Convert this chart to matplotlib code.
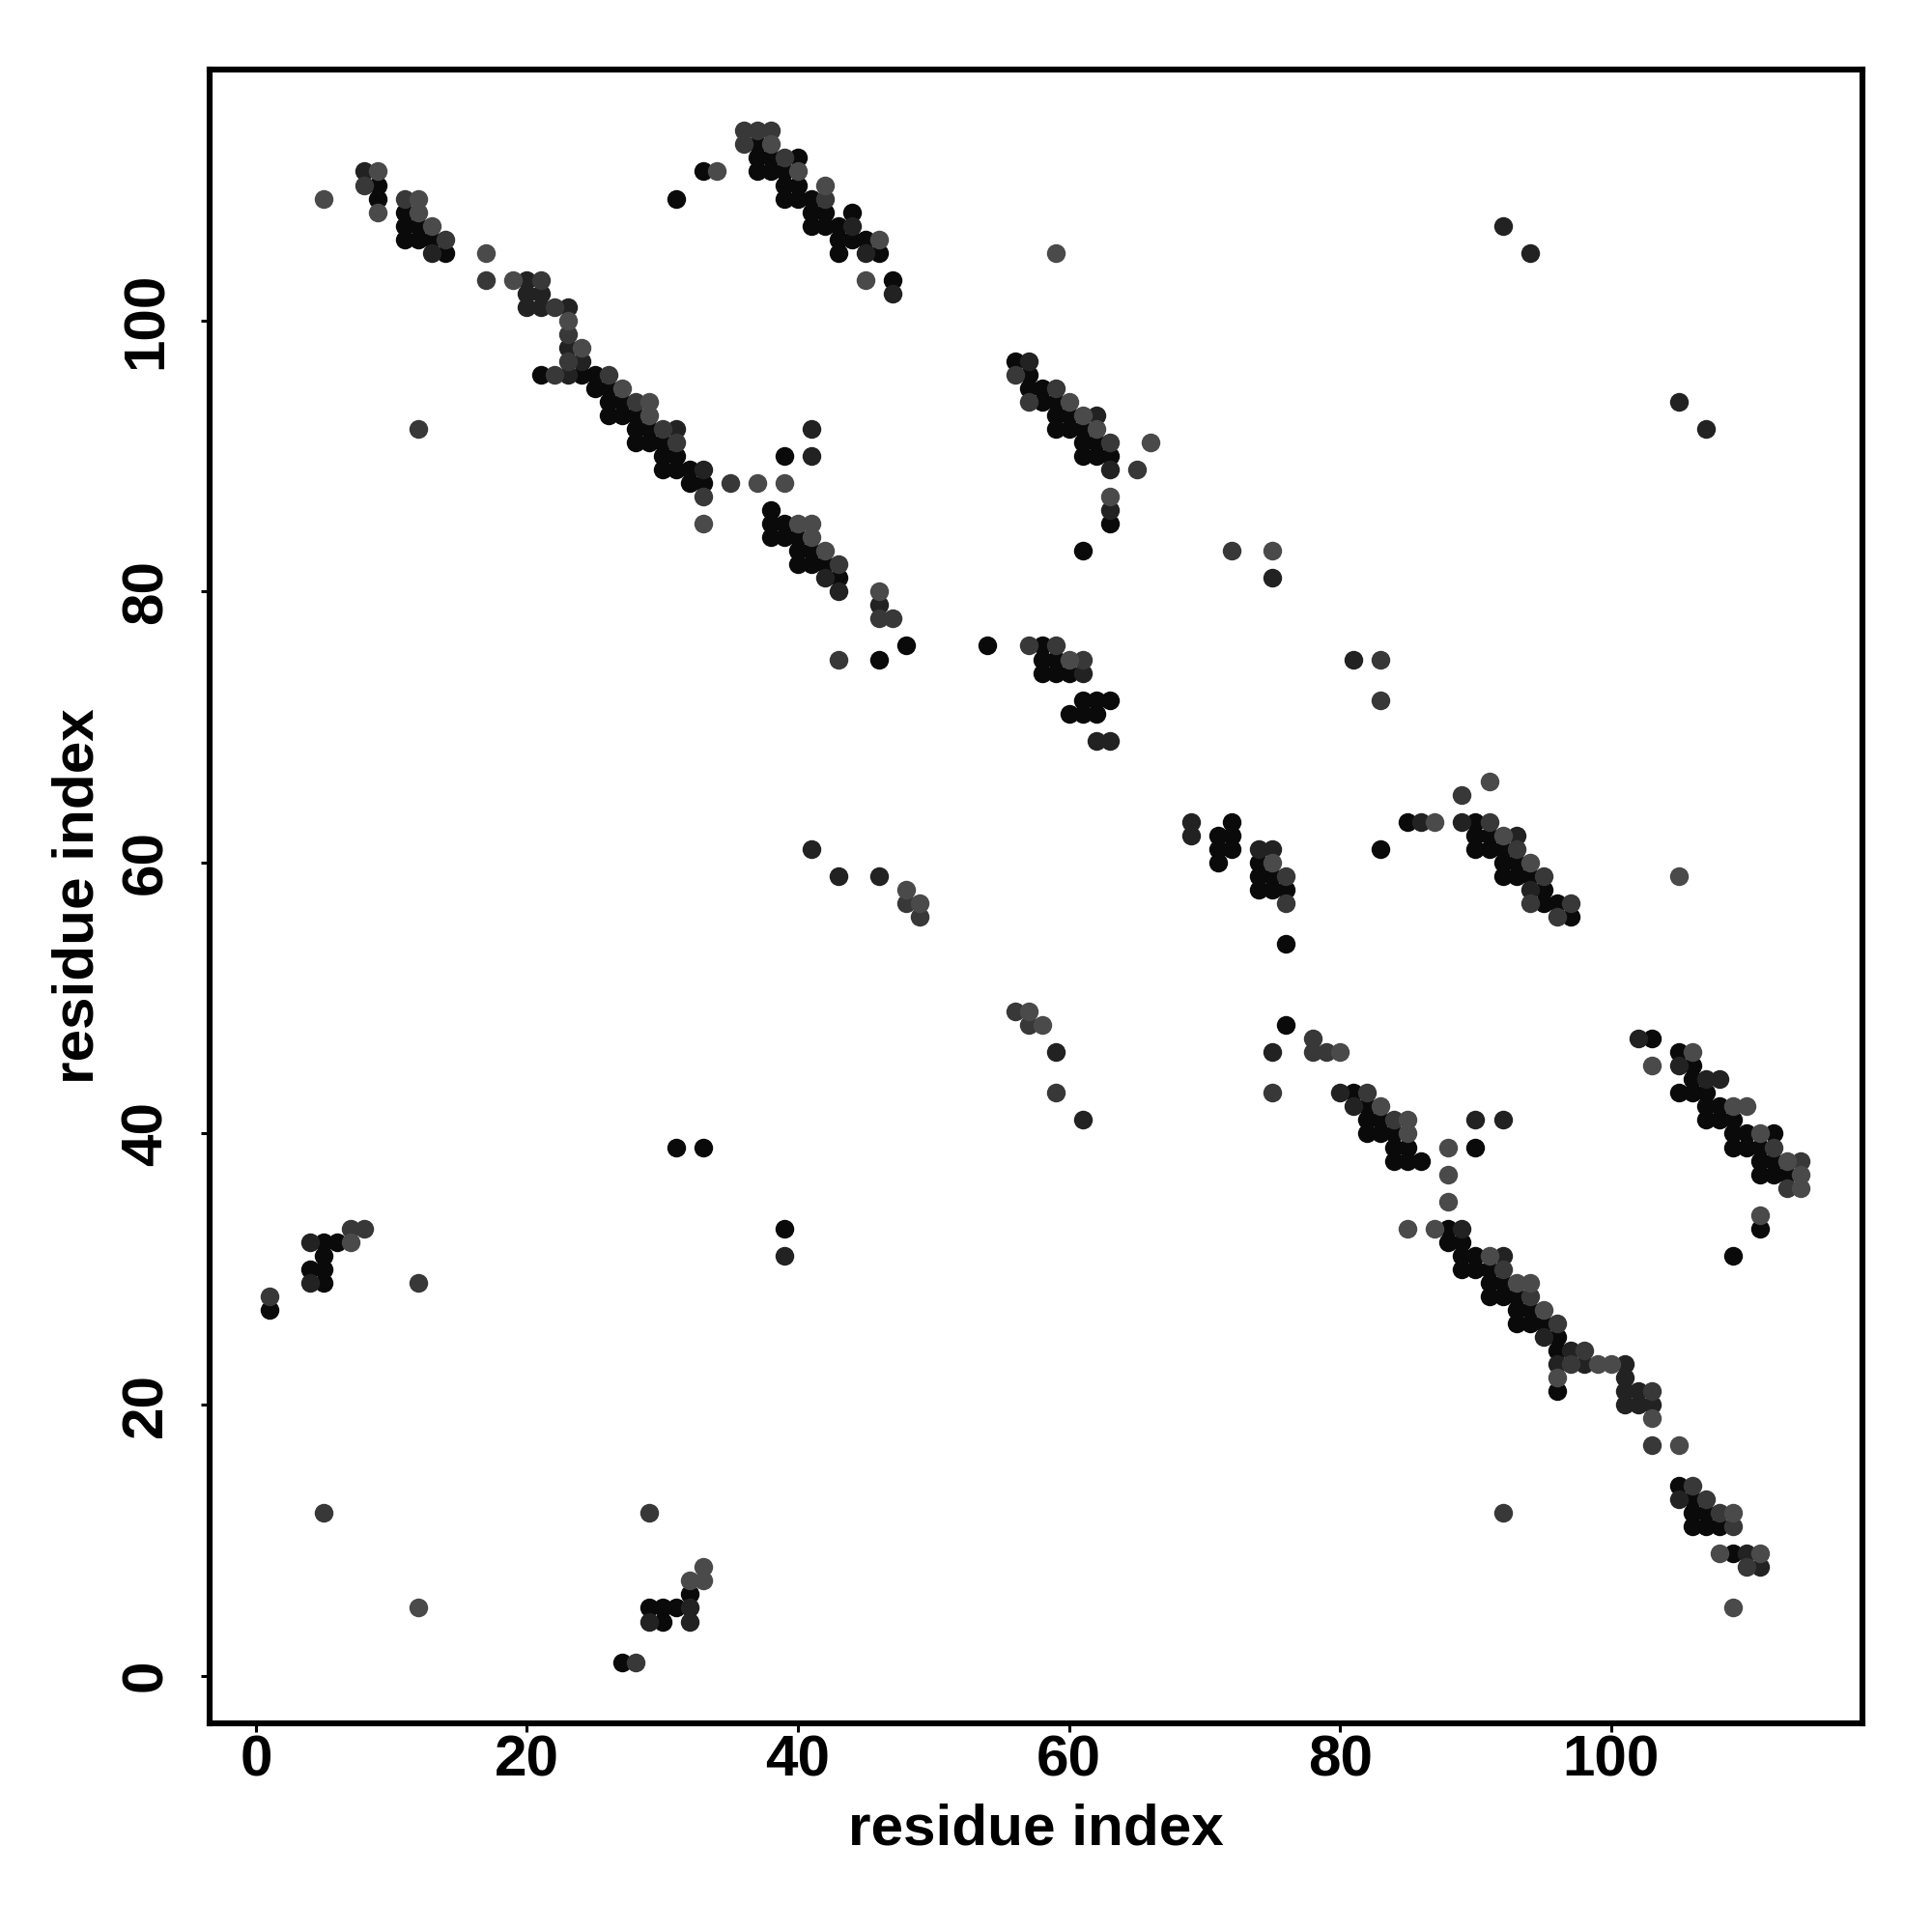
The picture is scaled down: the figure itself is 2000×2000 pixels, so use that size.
import matplotlib
matplotlib.use("Agg")
from matplotlib import pyplot as plt

# contacts, grouped by how dark the dot is
black_pts = [(9,110),(9,109),(11,108),(11,107),(12,107),(11,106),(12,106),(13,106),(14,105),(25,96),(24,96),(25,95),(26,95),
    (26,94),(27,94),(26,93),(27,93),(28,93),(28,92),(29,92),(28,91),(29,91),(30,91),(30,90),(31,90),(30,89),(31,89),(32,89),
    (32,88),(33,88),(21,96),(31,109),(33,111),(37,113),(37,112),(38,112),(40,112),(37,111),(38,111),(39,111),(39,110),(40,110),
    (39,109),(40,109),(41,109),(41,108),(42,108),(44,108),(41,107),(42,107),(43,107),(43,106),(44,106),(45,106),(43,105),(46,105),
    (47,103),(39,90),(38,86),(38,85),(39,85),(38,84),(39,84),(40,84),(40,83),(41,83),(40,82),(41,82),(42,82),(43,81),(48,76),
    (46,75),(54,76),(58,76),(58,75),(59,75),(58,74),(59,74),(60,74),(61,72),(62,72),(63,72),(60,71),(61,71),(62,71),(56,97),
    (57,96),(57,95),(58,95),(58,94),(59,94),(59,93),(60,93),(59,92),(60,92),(61,92),(61,91),(62,91),(61,90),(62,90),(63,90),
    (63,85),(61,83),(71,62),(72,63),(72,62),(71,61),(72,61),(71,60),(74,60),(74,59),(75,59),(74,58),(75,58),(76,58),(76,54),
    (76,48),(81,43),(82,42),(82,41),(83,41),(82,40),(83,40),(84,40),(84,39),(85,39),(84,38),(85,38),(86,38),(90,39),(88,33),
    (88,32),(89,32),(89,31),(90,31),(89,30),(90,30),(91,30),(91,29),(92,29),(91,28),(92,28),(93,28),(93,27),(94,27),(93,26),
    (94,26),(95,26),(96,25),(96,24),(96,21),(103,47),(105,46),(106,45),(106,44),(105,43),(106,43),(107,43),(107,42),(108,42),
    (107,41),(108,41),(109,41),(109,40),(110,40),(112,40),(109,39),(110,39),(111,39),(111,38),(112,38),(111,37),(112,37),(113,37),
    (111,33),(109,31),(83,61),(85,63),(90,63),(90,62),(91,62),(90,61),(91,61),(92,61),(92,60),(93,60),(92,59),(93,59),(94,59),
    (95,58),(95,57),(96,57),(97,56),(105,14),(106,13),(106,12),(107,12),(106,11),(107,11),(108,11),(109,9),(27,1),(29,5),(30,5),
    (31,5),(30,4),(32,6),(1,27),(5,32),(6,32),(5,31),(4,30),(5,30),(5,29),(31,39),(33,39),(39,33)]

dark_pts = [(8,111),(13,105),(20,103),(20,102),(21,102),(20,101),(21,101),(23,101),(23,98),(24,97),(23,96),(31,92),(33,89),
    (47,102),(44,107),(45,105),(41,92),(41,90),(42,81),(43,80),(46,79),(57,97),(62,93),(63,89),(63,86),(62,69),(63,69),(61,74),
    (41,61),(43,59),(46,59),(69,63),(69,62),(74,61),(75,61),(75,46),(80,43),(81,42),(90,41),(92,41),(89,33),(92,31),(95,25),
    (97,24),(96,23),(98,23),(101,23),(101,22),(101,21),(102,21),(101,20),(102,20),(103,20),(102,47),(105,45),(107,44),(108,44),
    (93,62),(86,63),(89,63),(94,58),(105,13),(110,9),(111,8),(32,5),(29,4),(32,4),(4,32),(4,29),(39,31),(92,107),(94,105),
    (105,94),(107,92),(75,81),(81,75),(59,46),(61,41)]

mid_pts = [(8,110),(11,109),(14,106),(17,103),(21,103),(22,101),(23,99),(23,97),(22,96),(26,96),(28,94),(30,92),(31,91),(33,87),
    (35,88),(12,92),(36,114),(37,114),(38,114),(36,113),(39,112),(42,109),(43,82),(46,78),(47,78),(43,75),(57,76),(59,76),(61,75),
    (56,96),(59,95),(57,94),(63,91),(65,89),(48,57),(49,56),(76,59),(76,57),(78,47),(78,46),(79,46),(75,43),(82,43),(84,41),
    (92,30),(94,28),(96,26),(98,24),(97,23),(103,21),(103,17),(112,39),(114,38),(113,36),(89,65),(91,63),(93,61),(95,59),(94,57),
    (97,57),(96,56),(106,14),(107,13),(108,12),(109,11),(110,8),(28,1),(7,33),(8,33),(1,28),(12,29),(5,12),(29,12),(92,12),
    (59,43),(57,48),(56,49),(72,83),(83,75),(83,72)]

light_pts = [(5,109),(9,111),(9,108),(12,109),(12,108),(13,107),(17,105),(19,103),(23,100),(24,98),(27,95),(29,94),(29,93),(33,85),
    (37,88),(34,111),(38,113),(40,111),(42,110),(46,106),(45,103),(39,88),(40,85),(41,85),(41,84),(42,83),(46,80),(60,75),(60,94),
    (61,93),(62,92),(66,91),(63,87),(48,58),(49,57),(57,49),(75,60),(80,46),(83,42),(85,41),(85,40),(88,39),(88,37),(88,35),(85,33),
    (87,33),(91,31),(93,29),(94,29),(95,27),(99,23),(100,23),(96,22),(103,19),(105,17),(103,45),(106,46),(109,42),(110,42),(111,40),
    (113,38),(114,37),(114,36),(111,34),(91,66),(87,63),(92,62),(94,60),(105,59),(108,9),(109,12),(111,9),(109,5),(12,5),(32,7),
    (33,7),(33,8),(7,32),(58,48),(59,105),(75,83)]

tick_vals = [0, 20, 40, 60, 80, 100]

plt.rcParams["font.family"] = ["Liberation Sans", "DejaVu Sans"]
plt.rcParams["font.weight"] = "bold"
plt.rcParams["font.size"] = 21.7

fig = plt.figure(figsize=(10, 10), dpi=200)
ax = fig.add_axes([216.5/2000, 1 - 1784/2000, (1928-216.5)/2000, (1784-72)/2000])

# darkest first so the lighter dots sit on top
for pts, col in [(black_pts, "#0a0a0a"), (dark_pts, "#222222"), (mid_pts, "#383838"), (light_pts, "#4a4a4a")]:
    ax.scatter([p[0] for p in pts], [p[1] for p in pts], s=49, c=col, linewidths=0, zorder=3)

ax.set_xlim(-3.45, 118.55)
ax.set_ylim(-3.52, 118.52)
ax.set_xticks(tick_vals)
ax.set_yticks(tick_vals)
ax.tick_params(axis="x", length=3.2, width=1.1, pad=1)
ax.tick_params(axis="y", length=3.2, width=1.1, pad=10.2)
for lab in ax.get_yticklabels():
    lab.set_rotation(90)
    lab.set_va("center")
for s in ax.spines.values():
    s.set_linewidth(2.2)

ax.set_xlabel("residue index", fontweight="bold", labelpad=5.8)
ax.set_ylabel("residue index", fontweight="bold", labelpad=5.6)

fig.savefig("out.png", dpi=200)
